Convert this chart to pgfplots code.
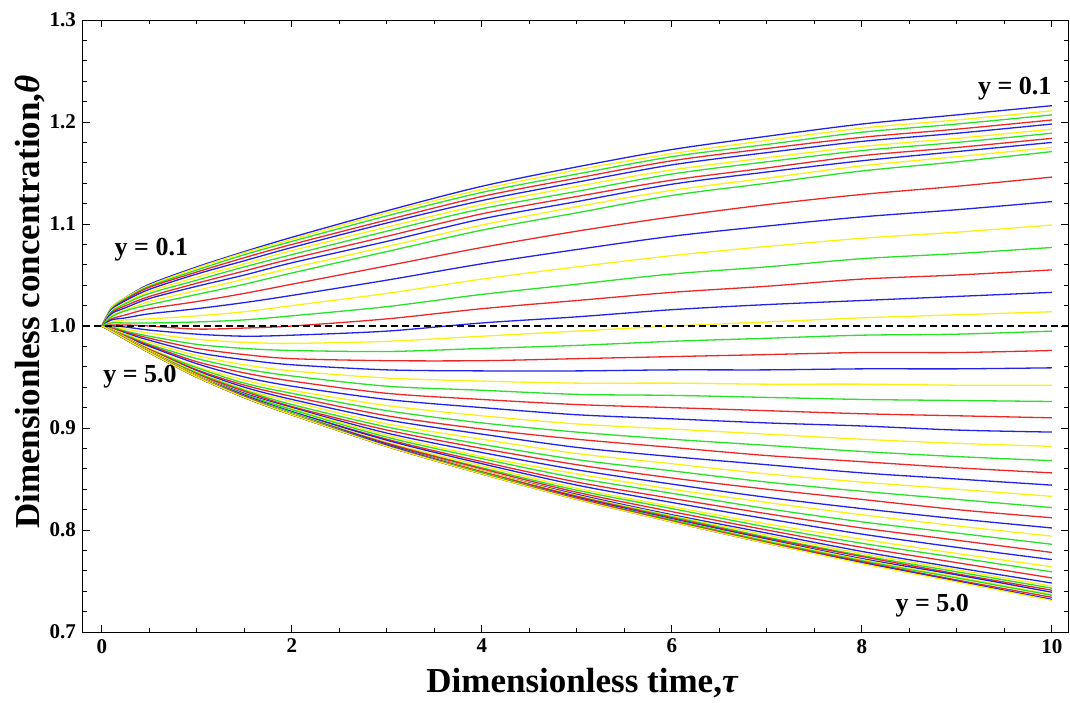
\documentclass[border=0pt]{standalone}
\usepackage{fontspec}
\setmainfont{Liberation Serif}
\usepackage{pgfplots}
\pgfplotsset{compat=1.18}
\definecolor{cb}{RGB}{35,35,230}
\definecolor{cy}{RGB}{250,240,20}
\definecolor{cg}{RGB}{40,225,40}
\definecolor{cr}{RGB}{235,40,40}
\pgfplotsset{
  lb/.style={color=cb, line width=0.65pt, smooth},
  ly/.style={color=cy, line width=0.65pt, smooth},
  lg/.style={color=cg, line width=0.65pt, smooth},
  lr/.style={color=cr, line width=0.65pt, smooth},
}
\begin{document}
\begin{tikzpicture}
\begin{axis}[
  scale only axis,
  width=492.5pt, height=306pt,
  xmin=-0.2, xmax=10.17, ymin=0.7, ymax=1.3,
  xtick={0,2,4,6,8,10},
  ytick={0.7,0.8,0.9,1.0,1.1,1.2,1.3},
  minor x tick num=3, minor y tick num=4,
  tick align=inside,
  major tick length=3.5pt, minor tick length=2pt,
  axis line style={line width=0.5pt},
  every tick/.style={black, line width=0.5pt},
  /pgf/number format/assume math mode=true,
  ticklabel style={font=\bfseries\fontsize{10.5}{12}\selectfont},
  yticklabel style={/pgf/number format/.cd, fixed, fixed zerofill, precision=1},
  xlabel={Dimensionless time,\itshape τ},
  ylabel={Dimensionless concentration,\itshape θ},
  every axis x label/.style={at={(rel axis cs:0.5066,-0.0833)}, anchor=center, font=\bfseries\fontsize{17.5}{20}\selectfont},
  every axis y label/.style={at={(rel axis cs:-0.0538,0.539)}, rotate=90, anchor=center, font=\bfseries\fontsize{17.5}{20}\selectfont},
  clip=false,
]
\addplot[lb] coordinates {(0,1)(.1,1.018)(.25,1.028)(.5,1.041)(1,1.058)(1.5,1.073)(2,1.087)(3,1.113)(4,1.137)(5,1.156)(6,1.173)(7,1.186)(8,1.198)(9,1.207)(10,1.216)};
\addplot[ly] coordinates {(0,1)(.1,1.018)(.25,1.028)(.5,1.040)(1,1.057)(1.5,1.072)(2,1.085)(3,1.111)(4,1.134)(5,1.153)(6,1.169)(7,1.182)(8,1.194)(9,1.202)(10,1.211)};
\addplot[lg] coordinates {(0,1)(.1,1.017)(.25,1.027)(.5,1.039)(1,1.055)(1.5,1.070)(2,1.083)(3,1.108)(4,1.131)(5,1.149)(6,1.166)(7,1.178)(8,1.190)(9,1.198)(10,1.207)};
\addplot[lr] coordinates {(0,1)(.1,1.016)(.25,1.026)(.5,1.038)(1,1.053)(1.5,1.067)(2,1.080)(3,1.104)(4,1.127)(5,1.145)(6,1.162)(7,1.174)(8,1.185)(9,1.193)(10,1.202)};
\addplot[lb] coordinates {(0,1)(.1,1.016)(.25,1.025)(.5,1.036)(1,1.051)(1.5,1.064)(2,1.077)(3,1.101)(4,1.123)(5,1.141)(6,1.158)(7,1.170)(8,1.181)(9,1.189)(10,1.198)};
\addplot[ly] coordinates {(0,1)(.1,1.015)(.25,1.023)(.5,1.034)(1,1.048)(1.5,1.061)(2,1.074)(3,1.097)(4,1.119)(5,1.137)(6,1.153)(7,1.165)(8,1.176)(9,1.184)(10,1.193)};
\addplot[lg] coordinates {(0,1)(.1,1.014)(.25,1.022)(.5,1.032)(1,1.045)(1.5,1.058)(2,1.070)(3,1.093)(4,1.115)(5,1.132)(6,1.149)(7,1.161)(8,1.172)(9,1.180)(10,1.189)};
\addplot[lr] coordinates {(0,1)(.1,1.013)(.25,1.020)(.5,1.029)(1,1.042)(1.5,1.054)(2,1.066)(3,1.088)(4,1.110)(5,1.127)(6,1.143)(7,1.155)(8,1.167)(9,1.175)(10,1.184)};
\addplot[lb] coordinates {(0,1)(.1,1.012)(.25,1.018)(.5,1.027)(1,1.039)(1.5,1.050)(2,1.062)(3,1.083)(4,1.105)(5,1.122)(6,1.139)(7,1.151)(8,1.162)(9,1.171)(10,1.180)};
\addplot[ly] coordinates {(0,1)(.1,1.010)(.25,1.016)(.5,1.024)(1,1.035)(1.5,1.046)(2,1.057)(3,1.078)(4,1.099)(5,1.117)(6,1.133)(7,1.145)(8,1.157)(9,1.166)(10,1.175)};
\addplot[lg] coordinates {(0,1)(.1,1.009)(.25,1.015)(.5,1.021)(1,1.031)(1.5,1.041)(2,1.052)(3,1.073)(4,1.094)(5,1.111)(6,1.128)(7,1.140)(8,1.152)(9,1.161)(10,1.171)};
\addplot[lr] coordinates {(0,1)(.1,1.007)(.25,1.011)(.5,1.017)(1,1.024)(1.5,1.032)(2,1.041)(3,1.059)(4,1.077)(5,1.093)(6,1.107)(7,1.119)(8,1.129)(9,1.137)(10,1.146)};
\addplot[lb] coordinates {(0,1)(.1,1.006)(.25,1.008)(.5,1.012)(1,1.017)(1.5,1.023)(2,1.030)(3,1.045)(4,1.061)(5,1.075)(6,1.088)(7,1.098)(8,1.107)(9,1.114)(10,1.122)};
\addplot[ly] coordinates {(0,1)(.1,1.004)(.25,1.006)(.5,1.007)(1,1.010)(1.5,1.014)(2,1.020)(3,1.032)(4,1.046)(5,1.058)(6,1.069)(7,1.078)(8,1.086)(9,1.092)(10,1.099)};
\addplot[lg] coordinates {(0,1)(.1,1.003)(.25,1.003)(.5,1.003)(1,1.004)(1.5,1.006)(2,1.010)(3,1.019)(4,1.031)(5,1.041)(6,1.051)(7,1.058)(8,1.066)(9,1.071)(10,1.077)};
\addplot[lr] coordinates {(0,1)(.1,1.001)(.25,1.001)(.5,1.000)(1,0.997)(1.5,0.998)(2,1.000)(3,1.007)(4,1.017)(5,1.025)(6,1.033)(7,1.039)(8,1.046)(9,1.050)(10,1.055)};
\addplot[lb] coordinates {(0,1)(.1,1.000)(.25,0.999)(.5,0.996)(1,0.992)(1.5,0.990)(2,0.991)(3,0.995)(4,1.003)(5,1.009)(6,1.016)(7,1.021)(8,1.025)(9,1.029)(10,1.033)};
\addplot[ly] coordinates {(0,1)(.1,0.999)(.25,0.997)(.5,0.993)(1,0.987)(1.5,0.984)(2,0.983)(3,0.985)(4,0.990)(5,0.995)(6,1.000)(7,1.004)(8,1.008)(9,1.011)(10,1.014)};
\addplot[lg] coordinates {(0,1)(.1,0.999)(.25,0.995)(.5,0.990)(1,0.982)(1.5,0.978)(2,0.976)(3,0.975)(4,0.978)(5,0.981)(6,0.985)(7,0.988)(8,0.991)(9,0.992)(10,0.995)};
\addplot[lr] coordinates {(0,1)(.1,0.998)(.25,0.994)(.5,0.988)(1,0.978)(1.5,0.972)(2,0.968)(3,0.966)(4,0.966)(5,0.968)(6,0.970)(7,0.972)(8,0.974)(9,0.974)(10,0.976)};
\addplot[lb] coordinates {(0,1)(.1,0.997)(.25,0.993)(.5,0.986)(1,0.974)(1.5,0.967)(2,0.962)(3,0.957)(4,0.956)(5,0.956)(6,0.957)(7,0.957)(8,0.958)(9,0.958)(10,0.959)};
\addplot[ly] coordinates {(0,1)(.1,0.997)(.25,0.992)(.5,0.984)(1,0.971)(1.5,0.962)(2,0.956)(3,0.949)(4,0.946)(5,0.944)(6,0.944)(7,0.943)(8,0.943)(9,0.942)(10,0.942)};
\addplot[lg] coordinates {(0,1)(.1,0.996)(.25,0.991)(.5,0.982)(1,0.968)(1.5,0.958)(2,0.951)(3,0.941)(4,0.937)(5,0.933)(6,0.932)(7,0.930)(8,0.928)(9,0.927)(10,0.926)};
\addplot[lr] coordinates {(0,1)(.1,0.996)(.25,0.990)(.5,0.981)(1,0.965)(1.5,0.954)(2,0.946)(3,0.934)(4,0.928)(5,0.923)(6,0.920)(7,0.917)(8,0.914)(9,0.912)(10,0.910)};
\addplot[lb] coordinates {(0,1)(.1,0.996)(.25,0.989)(.5,0.980)(1,0.963)(1.5,0.950)(2,0.941)(3,0.928)(4,0.920)(5,0.913)(6,0.909)(7,0.905)(8,0.902)(9,0.898)(10,0.896)};
\addplot[ly] coordinates {(0,1)(.1,0.996)(.25,0.989)(.5,0.978)(1,0.960)(1.5,0.947)(2,0.937)(3,0.922)(4,0.912)(5,0.904)(6,0.899)(7,0.894)(8,0.889)(9,0.885)(10,0.882)};
\addplot[lg] coordinates {(0,1)(.1,0.995)(.25,0.988)(.5,0.977)(1,0.959)(1.5,0.944)(2,0.934)(3,0.917)(4,0.905)(5,0.896)(6,0.889)(7,0.883)(8,0.877)(9,0.872)(10,0.868)};
\addplot[lr] coordinates {(0,1)(.1,0.995)(.25,0.988)(.5,0.977)(1,0.957)(1.5,0.942)(2,0.931)(3,0.912)(4,0.899)(5,0.889)(6,0.881)(7,0.873)(8,0.867)(9,0.861)(10,0.856)};
\addplot[lb] coordinates {(0,1)(.1,0.995)(.25,0.988)(.5,0.976)(1,0.956)(1.5,0.940)(2,0.928)(3,0.908)(4,0.894)(5,0.881)(6,0.872)(7,0.864)(8,0.856)(9,0.850)(10,0.844)};
\addplot[ly] coordinates {(0,1)(.1,0.995)(.25,0.988)(.5,0.976)(1,0.955)(1.5,0.938)(2,0.926)(3,0.904)(4,0.889)(5,0.875)(6,0.865)(7,0.855)(8,0.847)(9,0.840)(10,0.833)};
\addplot[lg] coordinates {(0,1)(.1,0.995)(.25,0.987)(.5,0.975)(1,0.954)(1.5,0.937)(2,0.923)(3,0.901)(4,0.884)(5,0.869)(6,0.858)(7,0.847)(8,0.838)(9,0.830)(10,0.822)};
\addplot[lr] coordinates {(0,1)(.1,0.995)(.25,0.987)(.5,0.975)(1,0.953)(1.5,0.936)(2,0.921)(3,0.898)(4,0.880)(5,0.864)(6,0.851)(7,0.840)(8,0.830)(9,0.820)(10,0.812)};
\addplot[lb] coordinates {(0,1)(.1,0.995)(.25,0.987)(.5,0.975)(1,0.952)(1.5,0.934)(2,0.920)(3,0.895)(4,0.876)(5,0.859)(6,0.845)(7,0.832)(8,0.821)(9,0.811)(10,0.802)};
\addplot[ly] coordinates {(0,1)(.1,0.995)(.25,0.987)(.5,0.975)(1,0.952)(1.5,0.933)(2,0.919)(3,0.893)(4,0.872)(5,0.855)(6,0.840)(7,0.827)(8,0.815)(9,0.804)(10,0.794)};
\addplot[lg] coordinates {(0,1)(.1,0.995)(.25,0.987)(.5,0.974)(1,0.951)(1.5,0.933)(2,0.918)(3,0.891)(4,0.870)(5,0.851)(6,0.836)(7,0.821)(8,0.808)(9,0.797)(10,0.786)};
\addplot[lr] coordinates {(0,1)(.1,0.995)(.25,0.987)(.5,0.974)(1,0.951)(1.5,0.932)(2,0.916)(3,0.889)(4,0.867)(5,0.847)(6,0.831)(7,0.816)(8,0.802)(9,0.790)(10,0.778)};
\addplot[lb] coordinates {(0,1)(.1,0.995)(.25,0.987)(.5,0.974)(1,0.951)(1.5,0.932)(2,0.916)(3,0.888)(4,0.865)(5,0.844)(6,0.827)(7,0.811)(8,0.796)(9,0.783)(10,0.771)};
\addplot[ly] coordinates {(0,1)(.1,0.995)(.25,0.987)(.5,0.974)(1,0.951)(1.5,0.931)(2,0.915)(3,0.886)(4,0.863)(5,0.841)(6,0.823)(7,0.806)(8,0.791)(9,0.777)(10,0.764)};
\addplot[lg] coordinates {(0,1)(.1,0.995)(.25,0.987)(.5,0.974)(1,0.950)(1.5,0.931)(2,0.915)(3,0.885)(4,0.861)(5,0.839)(6,0.821)(7,0.803)(8,0.787)(9,0.773)(10,0.759)};
\addplot[lr] coordinates {(0,1)(.1,0.995)(.25,0.987)(.5,0.974)(1,0.950)(1.5,0.931)(2,0.914)(3,0.885)(4,0.860)(5,0.837)(6,0.818)(7,0.800)(8,0.783)(9,0.768)(10,0.753)};
\addplot[lb] coordinates {(0,1)(.1,0.995)(.25,0.987)(.5,0.974)(1,0.950)(1.5,0.930)(2,0.914)(3,0.884)(4,0.858)(5,0.835)(6,0.815)(7,0.797)(8,0.779)(9,0.763)(10,0.748)};
\addplot[ly] coordinates {(0,1)(.1,0.995)(.25,0.987)(.5,0.974)(1,0.950)(1.5,0.930)(2,0.914)(3,0.883)(4,0.858)(5,0.834)(6,0.814)(7,0.795)(8,0.777)(9,0.761)(10,0.745)};
\addplot[lg] coordinates {(0,1)(.1,0.995)(.25,0.987)(.5,0.974)(1,0.950)(1.5,0.930)(2,0.913)(3,0.883)(4,0.857)(5,0.833)(6,0.813)(7,0.793)(8,0.775)(9,0.759)(10,0.743)};
\addplot[lr] coordinates {(0,1)(.1,0.995)(.25,0.987)(.5,0.974)(1,0.950)(1.5,0.930)(2,0.913)(3,0.883)(4,0.857)(5,0.833)(6,0.812)(7,0.792)(8,0.774)(9,0.757)(10,0.741)};
\addplot[lb] coordinates {(0,1)(.1,0.995)(.25,0.987)(.5,0.974)(1,0.950)(1.5,0.930)(2,0.913)(3,0.883)(4,0.856)(5,0.832)(6,0.811)(7,0.791)(8,0.772)(9,0.756)(10,0.739)};
\addplot[ly] coordinates {(0,1)(.1,0.995)(.25,0.987)(.5,0.974)(1,0.950)(1.5,0.930)(2,0.913)(3,0.882)(4,0.856)(5,0.831)(6,0.810)(7,0.790)(8,0.771)(9,0.754)(10,0.737)};
\addplot[lg] coordinates {(0,1)(.1,0.995)(.25,0.987)(.5,0.974)(1,0.950)(1.5,0.930)(2,0.913)(3,0.882)(4,0.856)(5,0.831)(6,0.810)(7,0.789)(8,0.770)(9,0.753)(10,0.736)};
\addplot[lr] coordinates {(0,1)(.1,0.995)(.25,0.987)(.5,0.974)(1,0.950)(1.5,0.930)(2,0.913)(3,0.882)(4,0.855)(5,0.831)(6,0.809)(7,0.788)(8,0.769)(9,0.751)(10,0.734)};
\addplot[lb] coordinates {(0,1)(.1,0.995)(.25,0.987)(.5,0.974)(1,0.950)(1.5,0.930)(2,0.913)(3,0.882)(4,0.855)(5,0.830)(6,0.808)(7,0.787)(8,0.768)(9,0.750)(10,0.732)};
\addplot[ly] coordinates {(0,1)(.1,0.995)(.25,0.987)(.5,0.974)(1,0.950)(1.5,0.930)(2,0.913)(3,0.882)(4,0.855)(5,0.830)(6,0.808)(7,0.787)(8,0.767)(9,0.749)(10,0.731)};
\addplot[black, line width=0.6pt, dash pattern=on 3.5pt off 2pt] coordinates {(-0.2,1) (10.17,1)};
\node[font=\bfseries\fontsize{13}{15}\selectfont] at (axis cs:0.52,1.0745) {y = 0.1};
\node[font=\bfseries\fontsize{13}{15}\selectfont] at (axis cs:0.40,0.950) {y = 5.0};
\node[font=\bfseries\fontsize{13}{15}\selectfont] at (axis cs:9.61,1.233) {y = 0.1};
\node[font=\bfseries\fontsize{13}{15}\selectfont] at (axis cs:8.74,0.7255) {y = 5.0};
\coordinate (BL) at (rel axis cs:-0.08426,-0.1144);
\coordinate (TR) at (rel axis cs:1.00203,1.0327);
\end{axis}
\pgfresetboundingbox
\path[use as bounding box] (BL) rectangle (TR);
\end{tikzpicture}
\end{document}
